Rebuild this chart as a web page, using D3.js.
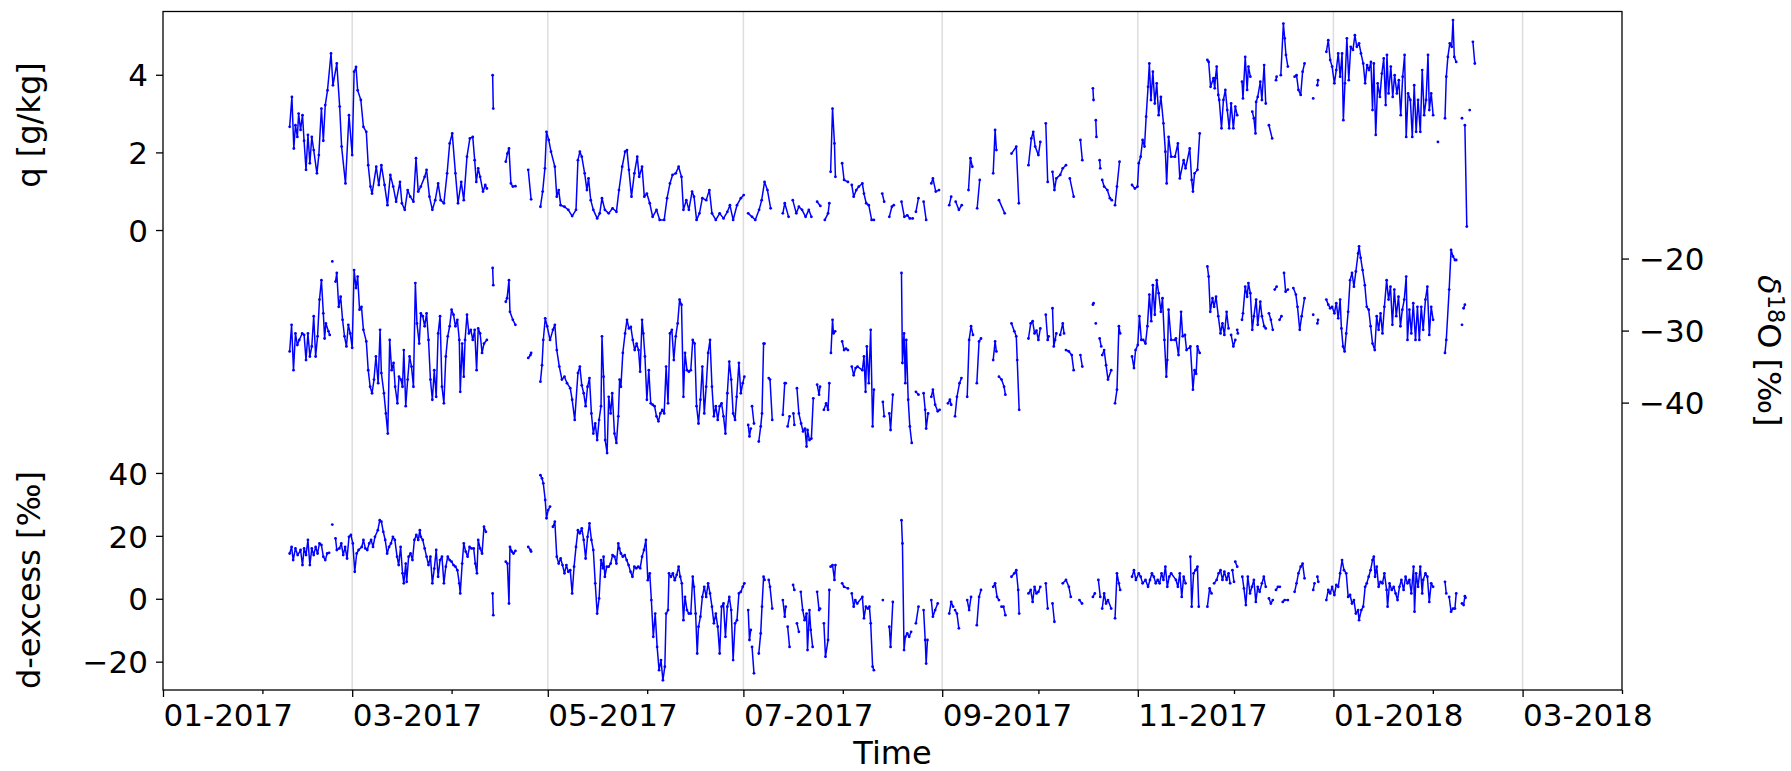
<!DOCTYPE html>
<html lang="en">
<head>
<meta charset="UTF-8">
<title>q, d18O and d-excess time series</title>
<script src="https://d3js.org/d3.v7.min.js"></script>
<style>
  body { margin: 0; background: #fff; }
  svg { display: block; font-family: "DejaVu Sans", sans-serif; }
</style>
</head>
<body>
<div id="chart"></div>
<script>
// each point: [days since 2017-01-01, value]; null marks a gap in the record
const qData = [
  [39.5,2.66],[40.2,3.43],[40.8,2.10],[41.3,2.70],[41.9,2.40],[42.3,3.00],[42.9,2.58],[43.5,2.96],[44.0,2.30],[44.6,1.55],[45.2,2.45],[45.8,1.72],[46.4,2.40],[47.0,2.06],[48.0,1.46],[48.6,1.93],[49.4,3.13],[50.0,2.30],[50.6,3.22],[51.3,3.60],[52.4,4.55],[53.0,3.73],[54.2,4.29],[55.1,3.18],[55.7,2.15],[56.9,1.20],[58.0,2.96],[59.0,1.93],[59.6,4.08],[60.2,4.20],[60.7,3.60],[61.7,3.35],[62.5,2.66],[63.4,2.53],[64.0,1.67],[64.7,1.12],[65.2,0.94],[66.5,1.63],[67.3,1.16],[68.1,1.67],[69.1,1.16],[70.0,0.64],[70.9,1.42],[71.8,1.12],[72.7,0.73],[73.9,1.24],[74.5,0.69],[75.4,0.52],[76.3,1.03],[77.1,0.86],[78.1,0.73],[78.9,1.85],[79.6,0.99],[80.4,1.12],[81.6,1.37],[82.2,1.55],[83.1,0.86],[84.0,0.52],[84.9,0.77],[85.8,1.20],[86.6,0.77],[87.6,0.69],[88.6,1.46],[89.4,2.23],[90.2,2.49],[91.2,1.46],[92.0,0.69],[93.0,1.24],[93.8,0.77],[94.8,1.89],[95.7,2.36],[96.6,2.40],[97.2,1.80],[97.7,1.24],[98.3,1.59],[98.9,1.37],[99.8,0.99],[100.5,1.16],[101.0,1.07], null,
  [102.8,3.99],[103.0,3.13], null,
  [106.9,1.76],[107.4,1.97],[107.9,2.10],[108.5,1.20],[109.1,1.12],[109.9,1.13], null,
  [113.9,1.55],[114.8,0.79], null,
  [117.7,0.60],[118.4,0.99],[119.1,1.59],[119.6,2.53],[120.3,2.32],[121.0,2.02],[122.2,1.63],[122.8,0.86],[123.4,1.03],[124.0,0.64],[125.2,0.60],[126.4,0.52],[127.6,0.36],[128.8,0.52],[129.4,1.80],[130.0,2.02],[130.6,1.89],[131.5,1.46],[132.2,1.03],[132.7,1.33],[133.4,0.77],[134.2,0.52],[135.4,0.30],[136.2,0.43],[136.9,0.82],[137.8,0.52],[139.0,0.43],[140.2,0.56],[141.4,0.47],[142.2,1.03],[143.2,1.63],[144.1,2.02],[144.7,2.06],[145.3,1.55],[146.1,0.86],[147.0,1.46],[147.9,1.89],[148.5,1.37],[149.4,1.63],[150.1,0.86],[150.9,0.94],[151.8,0.69],[152.7,0.34],[153.9,0.52],[154.9,0.26],[156.3,0.26],[157.2,0.82],[158.1,1.20],[158.9,1.42],[159.9,1.46],[160.8,1.63],[161.7,1.37],[162.3,0.52],[163.2,0.77],[164.0,0.52],[165.0,0.99],[165.6,0.86],[166.4,0.26],[167.3,0.43],[168.2,0.82],[169.4,0.77],[170.4,1.03],[171.2,0.43],[172.4,0.26],[173.6,0.43],[174.8,0.30],[176.0,0.47],[176.8,0.64],[177.8,0.26],[179.0,0.64],[180.2,0.82],[181.1,0.90], null,
  [182.5,0.43],[183.7,0.34],[184.7,0.26],[185.9,0.52],[186.7,0.77],[187.6,1.24],[188.5,1.03],[189.5,0.56], null,
  [193.3,0.43],[193.9,0.69],[195.1,0.34], null,
  [196.4,0.77],[197.5,0.43],[198.3,0.60],[199.3,0.52],[200.4,0.34],[201.4,0.52],[202.2,0.34], null,
  [204.0,0.73],[205.0,0.62], null,
  [206.4,0.26],[207.4,0.43],[207.8,0.69], null,
  [208.2,1.50],[208.8,3.13],[209.4,2.23],[209.7,1.37], null,
  [211.8,1.72],[212.4,1.29],[213.6,1.24], null,
  [214.8,1.16],[215.4,0.86],[216.2,1.03],[217.0,1.12],[218.1,1.20],[218.6,0.94],[219.3,0.69],[220.1,0.64],[221.0,0.26],[221.7,0.26], null,
  [224.3,0.94],[224.9,0.73], null,
  [226.5,0.34],[227.3,0.60],[227.9,0.64], null,
  [230.3,0.73],[231.2,0.34],[232.1,0.38],[232.9,0.30],[233.8,0.30], null,
  [234.8,0.47],[235.6,0.82], null,
  [237.2,0.73],[238.0,0.26], null,
  [239.6,1.20],[240.1,1.33],[241.0,0.99],[242.0,1.03], null,
  [245.2,0.64],[245.8,0.86], null,
  [247.2,0.73],[248.2,0.52],[249.1,0.64], null,
  [251.2,1.03],[251.8,1.85],[252.4,1.63], null,
  [253.9,0.56],[254.7,1.29], null,
  [258.9,1.46],[259.5,2.58],[259.9,2.06], null,
  [260.7,0.77],[262.5,0.43], null,
  [264.6,1.97],[266.1,2.15],[266.9,0.69], null,
  [269.9,1.67],[270.8,2.36],[271.4,2.53],[272.0,2.15],[273.0,1.93],[273.6,2.27], null,
  [275.3,2.75],[275.9,1.24], null,
  [277.4,1.50],[278.0,1.03],[278.6,1.33],[279.8,1.42],[280.6,1.59],[281.6,1.67], null,
  [282.8,1.33],[284.0,0.86], null,
  [286.1,2.32],[286.7,1.80], null,
  [290.0,3.65],[290.2,3.35], null,
  [290.9,2.83],[291.1,2.40], null,
  [292.1,1.80],[292.3,1.59], null,
  [292.9,1.29],[293.5,1.12],[294.5,1.03],[295.3,0.82],[295.9,0.77], null,
  [296.9,0.64],[297.5,1.12],[298.3,1.76], null,
  [302.2,1.16],[303.1,1.07],[303.9,1.12],[304.3,1.72],[304.9,1.89],[305.5,2.32],[306.1,2.15],[306.6,2.92],[307.2,3.69],[307.6,4.29],[308.1,3.35],[308.7,4.08],[309.3,3.26],[309.9,3.78],[310.5,2.96],[311.2,3.43],[312.0,2.75],[312.6,2.02],[313.0,1.20],[313.6,2.40],[314.4,1.89],[315.6,1.89],[316.5,2.23],[317.1,1.33],[318.3,1.80],[318.9,1.59],[320.2,2.10],[320.8,1.29],[321.2,0.99],[321.7,1.46],[322.6,1.55],[323.3,2.49], null,
  [325.7,4.38],[326.1,4.33],[326.7,3.69],[327.6,3.91],[328.0,3.65],[328.2,3.91],[328.6,4.21],[329.1,3.48],[329.4,3.35],[330.1,2.62],[330.7,3.35],[331.3,3.61],[331.9,3.09],[332.5,2.62],[333.1,3.26],[333.8,2.62],[334.4,3.18],[335.0,2.96], null,
  [336.5,3.82],[336.8,3.39],[337.5,4.46],[338.1,3.61],[338.5,4.21],[339.1,3.95], null,
  [339.7,3.05],[340.2,2.88],[340.7,2.49],[340.9,3.30],[341.4,3.43],[342.2,3.82],[342.7,3.35],[343.4,4.25],[343.9,3.26], null,
  [344.9,2.70],[345.9,2.36], null,
  [347.1,3.86],[347.3,3.95], null,
  [348.6,3.99],[349.4,5.32],[349.8,4.94],[350.2,4.51],[350.8,4.21], null,
  [352.9,3.95],[353.5,3.99],[354.1,3.61],[354.8,3.48],[355.4,4.08],[356.0,4.29], null,
  [358.7,3.39], null,
  [360.0,3.73],[360.2,3.86], null,
  [362.8,4.59],[363.4,4.89],[364.0,4.38],[364.6,4.21],[365.3,3.78],[365.9,4.12],[366.5,4.55],[367.1,3.95],[367.7,4.55],[368.1,2.83],[368.6,3.78],[369.2,4.94],[369.8,3.86],[370.4,4.72],[371.1,4.64],[371.7,5.02],[372.3,4.72],[373.0,4.81],[373.6,4.55],[374.3,4.29],[374.9,3.78],[375.5,4.25],[376.1,4.12],[376.7,4.33],[377.2,3.09],[377.6,4.29],[378.2,2.45],[378.8,3.78],[379.5,3.43],[380.1,4.03],[380.7,4.42],[381.3,3.22],[381.7,4.51],[382.2,3.52],[382.9,4.21],[383.5,3.43],[384.1,3.99],[384.8,3.52],[385.4,3.86],[386.0,2.96],[386.6,3.95],[387.2,4.51],[387.7,2.40],[388.3,3.52],[389.0,3.35],[389.6,2.40],[390.2,3.73],[390.8,2.53],[391.4,3.35],[392.1,2.53],[392.7,4.12],[393.3,2.96],[393.9,3.35],[394.5,4.51],[394.9,3.09],[395.5,3.52],[396.1,2.96], null,
  [397.6,2.27], null,
  [399.8,2.88],[400.2,3.95],[400.7,4.46],[401.3,4.81],[401.9,4.72],[402.3,5.41],[402.7,4.46],[403.3,4.33], null,
  [405.1,2.88], null,
  [406.0,2.70],[406.6,0.09], null,
  [407.5,3.09], null,
  [408.5,4.85],[409.1,4.29]
];

const d18Data = [
  [39.5,-32.9],[40.1,-29.2],[40.7,-35.5],[41.3,-30.4],[41.9,-32.0],[42.5,-31.3],[43.4,-30.4],[44.0,-30.6],[44.6,-34.1],[45.2,-30.4],[45.8,-33.6],[46.4,-32.2],[47.0,-28.0],[47.6,-33.6],[48.2,-30.8],[48.8,-25.7],[49.4,-23.0],[50.0,-27.6],[50.4,-31.1],[50.8,-29.0],[51.6,-30.1],[52.0,-30.6], null,
  [52.8,-20.4], null,
  [53.8,-23.2],[54.2,-22.0],[54.8,-26.7],[55.4,-25.3],[56.0,-28.5],[56.6,-30.8],[57.2,-32.2],[57.8,-29.2],[58.4,-30.4],[59.0,-32.4],[59.6,-21.6],[60.2,-24.1],[60.7,-22.5],[61.3,-27.1],[61.9,-26.7],[62.5,-29.9],[63.4,-31.5],[64.0,-35.5],[64.6,-37.8],[65.2,-38.7],[65.8,-36.8],[66.4,-33.6],[67.1,-37.3],[67.7,-29.9],[68.1,-35.9],[68.9,-38.7],[69.5,-41.5],[70.1,-44.3],[70.7,-31.3],[71.3,-35.5],[71.9,-34.5],[72.4,-37.8],[73.1,-40.1],[73.6,-36.4],[74.2,-36.8],[74.7,-37.8],[75.1,-32.7],[75.7,-40.5],[76.3,-36.8],[76.9,-33.6],[77.5,-35.0],[78.1,-37.8],[78.7,-23.4],[79.2,-29.0],[79.9,-31.8],[80.4,-27.6],[81.0,-28.0],[81.6,-29.4],[82.2,-27.6],[82.8,-31.3],[83.4,-36.8],[84.0,-39.6],[84.6,-35.5],[85.2,-39.2],[85.8,-30.4],[86.4,-28.0],[87.0,-37.8],[87.6,-40.1],[88.2,-33.6],[88.8,-30.8],[89.4,-29.4],[90.0,-27.1],[90.6,-27.8],[91.2,-29.4],[91.8,-28.5],[92.4,-31.3],[92.7,-38.5],[93.3,-31.8],[93.8,-36.4],[94.2,-31.3],[94.8,-27.8],[95.4,-30.4],[96.0,-29.9],[96.6,-31.3],[97.2,-29.9],[97.8,-35.5],[98.3,-29.7],[98.9,-30.4],[99.5,-33.1],[100.1,-31.8],[101.0,-31.3], null,
  [102.8,-21.3],[103.0,-23.7], null,
  [106.9,-26.0],[107.3,-25.5],[107.9,-23.0],[108.2,-27.4],[109.1,-28.5],[109.9,-29.2], null,
  [113.9,-33.8],[114.6,-33.4],[114.8,-33.1], null,
  [117.7,-37.1],[118.2,-34.8],[118.6,-31.3],[119.2,-28.3],[119.8,-29.4],[120.7,-31.3],[121.6,-29.9],[122.2,-29.2],[122.8,-32.7],[123.6,-35.0],[124.4,-36.8],[125.2,-36.4],[126.0,-37.3],[127.0,-38.0],[127.6,-39.6],[128.4,-42.4],[129.4,-35.9],[130.0,-35.0],[130.6,-37.6],[131.2,-38.7],[131.8,-40.5],[132.4,-37.8],[133.0,-36.6],[133.6,-41.5],[134.2,-44.3],[134.8,-42.9],[135.4,-45.2],[136.0,-42.4],[136.6,-40.5],[136.9,-30.8],[137.4,-36.4],[137.9,-45.2],[138.5,-47.0],[139.0,-39.2],[139.6,-41.5],[140.1,-38.7],[140.8,-44.3],[141.4,-45.6],[142.0,-41.9],[142.4,-36.8],[142.8,-37.8],
  [143.4,-33.1],[144.1,-30.4],[144.7,-28.5],[145.3,-29.7],[145.9,-29.5],[146.5,-31.3],[147.1,-32.7],[147.7,-31.8],[148.3,-32.7],[148.8,-35.7],[149.4,-28.5],[149.8,-30.4],[150.3,-33.6],[150.9,-39.6],[151.5,-35.5],[152.1,-40.1],[152.7,-40.3],[153.3,-40.5],[153.9,-41.9],[154.5,-42.6],[155.1,-41.5],[155.7,-41.0],[156.3,-41.5],[156.9,-35.0],[157.5,-40.1],[158.1,-30.4],[158.7,-29.9],[159.3,-34.1],[159.9,-30.8],[160.5,-29.0],[161.1,-25.7],[161.7,-26.4],[162.3,-39.2],[162.8,-33.1],[163.4,-35.5],[164.0,-35.7],[164.6,-35.5],[165.2,-31.3],[165.8,-31.8],[166.4,-40.5],[167.0,-42.9],[167.6,-39.6],[168.2,-35.0],[168.8,-41.5],[169.4,-37.8],[170.0,-33.1],[170.6,-31.3],[171.2,-37.8],[171.8,-41.9],[172.4,-40.5],[173.0,-42.4],[173.6,-40.5],[174.2,-40.1],[174.8,-41.9],[175.4,-44.3],[176.0,-38.7],[176.6,-34.3],[177.2,-36.8],[177.8,-41.5],[178.4,-42.4],[178.9,-39.2],[179.6,-34.5],[180.2,-38.7],[180.8,-37.3],[181.3,-36.4], null,
  [182.5,-43.1],[182.9,-44.7],[183.3,-43.6], null,
  [183.7,-40.5],[184.3,-42.9], null,
  [185.8,-45.4],[186.4,-43.3],[186.8,-41.5],[187.3,-31.8],[187.6,-31.8], null,
  [188.9,-36.6],[189.3,-36.8],[190.0,-42.4], null,
  [193.3,-41.7],[193.9,-37.3],[194.2,-37.3], null,
  [194.8,-43.3],[195.4,-41.9], null,
  [196.6,-41.5],[196.9,-43.1], null,
  [197.7,-38.0],[198.3,-41.5],[199.0,-42.9],[199.6,-44.0],[200.2,-43.6],[200.7,-46.1],[201.0,-43.8],[201.6,-45.2],[202.2,-45.0],[202.8,-39.4], null,
  [204.0,-37.5],[204.6,-38.9],[204.9,-37.8], null,
  [206.1,-41.0],[206.8,-40.1],[207.4,-41.0],[207.8,-37.3], null,
  [208.3,-33.1],[208.8,-28.5],[209.1,-30.4],[209.6,-30.1], null,
  [211.8,-31.5],[212.4,-32.7],[213.0,-32.5],[213.6,-32.7], null,
  [214.8,-35.0],[215.4,-36.2],[216.0,-35.2],[216.6,-35.0],[218.1,-35.5],[218.6,-33.6],[219.1,-38.5],[219.5,-32.2],[220.1,-37.3],[220.7,-29.9],[221.3,-43.3],[221.7,-38.2], null,
  [224.5,-39.9],[224.9,-41.9], null,
  [226.5,-41.5],[226.9,-43.8],[227.6,-38.9], null,
  [230.3,-22.0],[230.6,-34.5],[231.1,-30.4],[231.5,-37.3],[231.8,-31.3],[232.4,-39.6],[232.9,-43.3],[233.5,-45.6], null,
  [234.8,-38.5],[235.6,-38.9], null,
  [237.2,-38.7],[237.7,-41.0],[238.0,-43.6],[238.6,-41.5], null,
  [239.6,-39.2],[240.1,-38.2],[240.8,-40.3],[241.6,-41.2],[242.2,-41.0], null,
  [244.8,-40.1],[245.4,-39.6],[245.8,-40.3], null,
  [247.0,-41.9],[247.6,-39.2],[248.4,-37.3],[249.0,-36.6], null,
  [250.8,-39.2],[251.4,-31.3],[252.0,-29.4],[252.6,-30.6], null,
  [253.8,-37.3],[254.5,-31.5],[255.1,-31.1], null,
  [258.9,-34.1],[259.5,-31.5],[259.9,-32.9], null,
  [260.7,-36.4],[261.5,-36.8],[262.3,-37.8],[262.7,-38.9], null,
  [264.6,-29.0],[265.5,-30.1],[266.1,-30.8],[266.4,-34.1],[267.0,-41.0], null,
  [269.9,-31.1],[270.6,-29.0],[271.2,-28.7],[271.8,-30.4],[272.4,-30.0],[273.0,-31.3],[273.6,-29.7], null,
  [275.3,-27.8],[275.9,-31.3],[276.2,-30.8], null,
  [277.4,-26.9],[277.8,-32.2],[278.2,-31.3],[278.6,-30.4], null,
  [279.8,-30.6],[280.6,-29.0],[281.0,-30.4], null,
  [281.6,-32.7],[282.5,-32.9],[283.4,-33.4],[284.0,-35.5], null,
  [286.1,-33.4],[286.7,-35.0], null,
  [290.0,-26.4],[290.2,-26.2], null,
  [290.9,-29.0], null,
  [292.1,-31.1],[292.6,-32.2], null,
  [292.9,-33.4],[293.5,-32.7],[294.1,-34.8],[294.7,-36.8],[295.7,-35.5], null,
  [296.9,-40.1],[297.5,-38.2],[298.1,-29.4],[298.5,-30.4], null,
  [302.2,-33.6],[302.8,-35.2],[303.3,-32.7],[304.0,-32.0],[304.5,-28.0],[305.1,-31.3],[305.7,-31.3],[306.4,-31.8],[307.0,-29.4],[307.6,-25.0],[308.2,-28.7],[308.7,-23.7],[309.3,-27.8],[309.9,-23.0],[310.5,-24.8],[311.2,-27.4],[311.7,-25.5],[312.3,-31.3],[312.9,-36.4],[313.2,-34.1],[313.6,-27.1],[314.4,-31.3],[315.6,-31.3],[315.9,-31.1],[316.7,-33.4],[317.5,-27.4],[318.0,-30.8],[318.7,-30.6],[319.2,-32.7],[320.4,-32.2],[321.2,-38.2],[321.7,-35.5],[322.2,-36.0],[322.6,-32.2],[323.3,-33.1], null,
  [325.7,-21.1],[326.1,-22.5],[326.6,-27.4],[327.3,-25.5],[327.8,-26.7],[328.4,-25.3],[329.1,-28.0],[329.8,-30.4],[330.4,-29.0],[331.0,-30.6],[331.7,-27.4],[332.3,-29.7], null,
  [333.1,-30.6],[333.8,-32.2],[334.4,-31.3], null,
  [335.0,-29.9],[335.2,-30.4], null,
  [336.5,-28.5],[336.8,-27.6],[337.5,-23.9],[338.1,-25.3],[338.5,-23.4],[339.1,-24.8],[339.7,-29.9],[340.2,-28.0],[340.9,-25.7],[341.4,-29.2],[342.2,-26.0],[342.7,-28.0],[343.4,-29.4],[343.9,-29.7], null,
  [344.9,-27.6],[345.5,-28.5],[346.1,-29.9], null,
  [346.7,-24.3],[347.3,-23.9], null,
  [348.2,-28.5],[348.8,-28.0], null,
  [349.6,-22.0],[350.1,-24.6],[350.8,-24.3], null,
  [352.5,-24.1],[353.3,-25.0],[353.8,-26.7],[354.5,-29.9],[355.1,-28.0],[356.0,-25.5], null,
  [358.7,-27.8], null,
  [360.0,-29.0],[360.2,-28.5], null,
  [362.8,-25.7],[363.4,-26.4],[364.0,-26.9],[364.6,-26.7],[365.3,-27.6],[365.9,-26.2],[366.5,-28.3],[367.1,-25.7],[367.5,-29.7],[368.0,-32.2],[368.5,-32.9],[369.0,-30.4],[369.6,-27.4],[370.2,-23.0],[370.8,-22.0],[371.4,-23.9],[372.0,-21.8],[372.7,-19.3],[373.0,-18.3],[373.5,-19.9],[374.1,-21.6],[374.8,-23.7],[375.4,-26.7],[376.0,-27.1],[376.6,-29.4],[377.2,-31.8],[377.9,-32.7],[378.5,-28.0],[379.1,-29.9],[379.7,-27.6],[380.3,-30.4],[380.9,-26.7],[381.6,-23.0],[382.2,-25.7],[382.8,-23.9],[383.4,-29.2],[384.0,-24.3],[384.6,-28.0],[385.3,-25.3],[385.9,-29.4],[386.5,-27.1],[387.1,-25.7],[387.7,-22.5],[388.1,-31.3],[388.7,-27.1],[389.3,-30.4],[389.9,-26.2],[390.6,-31.3],[391.2,-26.7],[391.8,-31.3],[392.4,-26.7],[393.0,-29.9],[393.7,-25.7],[394.3,-23.9],[394.9,-30.6],[395.5,-26.7],[396.1,-28.5], null,
  [399.8,-33.1],[400.2,-31.3],[401.1,-24.3],[401.7,-18.8],[402.3,-19.7],[402.9,-20.2],[403.3,-20.2], null,
  [405.1,-29.2], null,
  [405.6,-26.9],[406.0,-26.4]
];

const dxsData = [
  [39.5,14.4],[40.1,16.5],[40.6,12.3],[41.3,16.0],[42.0,13.9],[42.9,15.5],[43.5,10.7],[44.0,16.0],[44.6,13.9],[45.2,18.7],[45.8,10.7],[46.4,16.0],[47.0,13.9],[47.6,16.5],[48.2,14.4],[48.8,17.6],[49.4,17.1],[50.0,13.4],[50.6,12.3],[51.2,14.4],[51.8,14.6], null,
  [52.8,23.6], null,
  [53.8,19.2],[54.2,15.5],[55.0,16.0],[55.6,17.6],[56.2,13.9],[56.8,16.5],[57.4,12.8],[58.0,19.7],[58.6,20.3],[59.2,17.6],[59.8,8.6],[60.4,14.4],[61.0,15.5],[62.0,16.5],[62.5,18.7],[63.1,16.0],[63.7,15.5],[64.3,17.6],[64.9,18.7],[65.5,16.5],[66.1,19.7],[67.0,21.8],[67.6,25.0],[68.1,24.5],[68.7,21.3],[69.3,18.7],[69.9,14.4],[70.5,16.5],[71.1,17.6],[71.7,19.7],[72.3,18.7],[73.0,13.4],[73.5,10.7],[74.1,16.5],[74.7,8.1],[75.1,4.9],[75.7,11.2],[76.0,5.4],[76.6,13.4],[77.2,14.4],[77.8,12.3],[78.4,18.7],[79.0,20.3],[79.6,18.7],[80.1,21.8],[80.4,19.7],[81.0,18.7],[81.6,16.0],[82.2,13.4],[82.8,10.7],[83.4,13.4],[84.0,4.9],[84.6,9.6],[85.2,15.5],[85.8,7.0],[86.4,12.3],[87.0,13.4],[87.6,4.9],[88.2,10.2],[88.8,13.4],[89.4,12.3],[90.0,11.8],[90.6,10.7],[91.2,10.2],[91.8,9.1],[92.4,4.9],[92.7,1.7],[93.3,11.2],[93.8,17.6],[94.4,15.0],[95.0,13.4],[95.6,16.5],[96.2,16.0],[96.9,16.0],[97.4,11.2],[97.9,8.1],[98.3,18.7],[98.9,16.0],[99.5,14.4],[100.1,22.9],[100.7,21.3], null,
  [102.8,1.7],[103.0,-5.2], null,
  [106.9,11.8],[107.4,11.2],[107.9,-1.5],[108.2,16.5],[108.8,15.0],[109.3,14.4],[109.9,15.2], null,
  [113.9,16.5],[114.6,15.5],[114.8,15.0], null,
  [117.7,39.3],[118.2,38.3],[118.6,36.7],[119.2,31.4],[119.6,25.6],[120.1,28.2],[120.7,29.3], null,
  [121.6,22.9],[122.2,24.5],[122.8,13.4],[123.4,11.2],[124.0,12.8],[124.6,10.7],[125.2,8.1],[125.8,10.7],[126.4,8.6],[127.0,9.1],[127.6,1.7],[128.2,10.2],[128.8,16.5],[129.4,21.8],[130.0,20.8],[130.6,22.4],[131.2,18.7],[131.8,12.8],[132.4,19.7],[133.0,24.0],[133.6,18.7],[134.2,15.5],[134.8,4.9],[135.4,-4.7],[136.0,0.1],[136.6,12.3],[137.2,9.7],[137.4,13.4],[137.8,7.0],[138.4,10.2],[139.0,10.2],[139.6,11.2],[140.2,13.9],[140.8,13.4],[141.4,11.2],[142.0,17.6],[142.3,16.0],[142.8,14.4],[143.4,13.4],[144.0,13.9],[144.6,12.3],[145.2,10.7],[145.8,8.6],[146.4,7.0],[147.0,10.2],[147.6,9.7],[148.2,10.2],[148.8,9.7],[149.4,13.4],[150.0,15.5],[150.6,18.7],[151.2,5.9],[151.8,8.1],[152.3,-0.4],[152.9,-12.1],[153.5,-4.7],[154.1,-15.3],[154.7,-22.7],[155.3,-19.5],[155.9,-25.9],[156.5,-21.6],[156.9,-4.7],[157.5,-3.6],[157.8,8.1],[158.4,7.0],[159.0,8.1],[159.6,5.9],[160.2,7.6],[160.8,10.2],[161.3,7.0],[161.8,4.9],[162.3,-6.8],[162.8,0.6],[163.4,-3.6],[164.0,-4.7],[164.6,-4.7],[165.2,7.0],[165.6,3.8],[166.1,-4.7],[166.6,-17.4],[167.0,-8.9],[167.6,-5.7],[168.2,0.6],[168.8,3.8],[169.4,0.6],[170.0,4.9],[170.6,1.7],[171.2,-2.5],[171.8,-7.8],[172.4,-4.7],[173.0,-8.9],[173.6,-17.4],[174.2,-2.5],[174.8,-1.5],[175.4,-12.1],[176.0,-2.5],[176.6,0.6],[177.2,-3.6],[177.8,-19.5],[178.4,-7.8],[179.0,-6.8],[179.6,1.7],[180.2,2.2],[180.8,3.8],[181.3,4.9], null,
  [182.5,-3.6],[182.9,-13.1],[183.3,-9.9], null,
  [183.7,-15.3],[184.3,-23.7], null,
  [185.8,-17.4],[186.4,-11.0],[186.8,-2.5],[187.3,7.0],[187.6,6.0], null,
  [188.9,6.0],[189.3,3.8],[190.0,-3.1], null,
  [193.3,-0.4],[193.9,-5.7],[194.2,-2.5], null,
  [194.8,-8.9],[195.4,-15.3], null,
  [196.5,4.4],[196.9,2.8], null,
  [197.7,-7.8],[198.3,-10.5], null,
  [198.9,2.2],[199.5,-3.6],[200.1,-6.8],[200.7,-4.7],[201.0,-16.3],[201.6,-3.6],[202.0,-9.9],[202.6,-15.3], null,
  [204.0,2.2],[204.6,-3.6],[204.9,-3.1], null,
  [206.1,-7.8],[206.6,-18.4],[207.4,-13.1],[207.8,2.8], null,
  [208.2,10.2],[208.8,10.7],[209.4,6.0],[209.7,10.7], null,
  [211.8,4.9],[212.4,3.8],[213.6,3.3], null,
  [214.8,1.7],[215.4,-2.5],[215.9,-0.4],[216.5,-1.5],[218.1,0.6],[218.6,-6.2],[219.2,-2.5],[219.8,-3.1],[220.3,-2.5],[220.7,-7.8],[221.3,-21.6],[221.7,-22.7], null,
  [224.5,-0.4], null,
  [226.5,-8.9],[226.9,-15.3],[227.6,-1.0], null,
  [230.3,25.0],[230.6,17.6],[231.1,-16.3],[231.5,-12.1],[232.1,-11.0],[232.7,-12.1],[233.3,-10.5], null,
  [234.8,-7.8],[235.6,-2.5], null,
  [237.2,-3.6],[237.7,-13.1],[238.0,-20.6],[238.4,-13.1], null,
  [239.6,-0.4],[240.1,-5.7],[240.8,-3.6],[241.6,-1.5], null,
  [245.2,-4.7],[245.8,-1.0],[246.4,-2.5], null,
  [247.0,-3.6],[247.6,-4.7],[248.2,-9.4], null,
  [250.8,-0.4],[251.4,-3.6],[252.0,0.6], null,
  [253.8,-8.4],[254.5,0.6],[255.1,2.8], null,
  [258.9,3.8],[259.5,4.9],[260.1,0.6],[260.7,-0.4], null,
  [261.5,-2.5],[262.1,-2.5],[262.7,-5.2], null,
  [264.6,7.0],[265.5,8.1],[266.1,9.1],[266.7,2.8],[267.0,-4.7], null,
  [269.9,1.7],[270.6,2.8],[271.2,-1.0],[271.8,3.8],[272.4,1.7],[273.0,2.2],[273.6,3.8], null,
  [275.3,4.9],[275.9,-3.1], null,
  [277.4,-1.5],[278.0,-7.3], null,
  [280.6,4.9],[281.6,6.0],[282.5,3.8],[283.1,0.6], null,
  [285.8,-0.4],[286.6,-1.5], null,
  [290.0,0.6],[290.6,1.7], null,
  [291.7,6.0],[292.3,0.6], null,
  [292.9,-3.1],[293.5,1.7],[294.1,-1.5],[294.7,-0.4],[295.7,-3.1], null,
  [296.9,-6.2],[297.5,8.1],[298.1,4.9],[298.5,2.8], null,
  [302.2,7.0],[302.8,9.1],[303.4,6.0],[304.3,8.1],[304.9,7.0],[305.5,4.9],[306.4,6.0],[307.2,3.8],[307.8,6.0],[308.4,8.1],[309.0,7.0],[309.6,4.9],[310.2,6.0],[310.8,4.9],[311.4,8.1],[312.0,6.0],[312.6,10.2],[313.2,3.8],[313.8,7.0],[314.4,8.1],[315.9,6.0],[316.5,3.8],[317.1,8.1],[317.7,0.6],[318.3,7.0],[318.9,4.9], null,
  [320.4,13.4],[320.8,-2.5],[321.4,8.1],[322.0,9.1],[322.6,10.2],[323.0,-2.5], null,
  [325.7,-2.5],[326.4,3.3],[327.0,1.7], null,
  [327.8,4.9],[328.6,6.0],[329.2,8.1],[329.8,9.1],[330.4,6.0],[331.0,8.6],[331.7,6.0],[332.3,8.1],[332.8,4.9], null,
  [333.5,9.1],[334.0,5.4], null,
  [334.4,11.8],[335.0,10.2], null,
  [336.6,7.0],[337.1,3.3],[337.7,-2.0],[338.3,7.0],[339.0,1.7],[339.6,3.8],[340.2,6.0],[340.8,-1.0],[341.4,3.8],[342.0,2.2],[342.7,4.9],[343.3,7.0],[343.9,3.8], null,
  [344.9,0.1],[345.5,-1.5],[346.1,-0.4], null,
  [347.1,2.8],[347.7,3.8],[348.3,3.8], null,
  [349.2,-1.0],[349.8,-0.4],[350.8,-0.4], null,
  [352.9,2.2],[353.5,4.9],[354.1,8.1],[354.8,10.2],[355.4,11.2],[356.0,6.5], null,
  [358.7,2.8],[359.1,4.9], null,
  [360.0,7.0],[360.3,5.4], null,
  [362.8,-0.4],[363.4,2.8],[364.0,1.7],[364.6,3.8],[365.3,1.2],[365.9,4.4],[366.5,3.8],[367.1,8.1],[367.7,12.3],[368.3,9.1],[369.0,8.1],[369.6,0.6],[370.2,1.2],[370.8,-1.5],[371.4,-0.4],[372.0,-4.7],[372.7,-3.6],[373.0,-6.8],[373.7,-3.6],[374.3,-2.5],[374.9,3.8],[375.4,4.9],[376.0,7.0],[376.6,9.1],[377.2,12.3],[377.6,13.4],[378.0,7.0],[378.5,10.2],[379.1,3.8],[379.7,5.4],[380.3,4.9],[380.9,8.1],[381.6,2.8],[381.9,-2.5],[382.5,4.9],[383.2,2.8],[383.8,3.8],[384.4,1.7],[385.0,-0.4],[385.6,3.8],[386.2,6.0],[386.9,2.8],[387.5,7.0],[388.1,4.9],[388.7,6.0],[389.3,1.7],[390.0,10.2],[390.3,-4.1],[390.8,8.1],[391.4,3.8],[392.1,10.2],[392.7,1.7],[393.0,6.0],[393.7,8.1],[394.3,7.0],[394.9,-1.0],[395.5,4.9],[396.1,3.8], null,
  [399.8,5.4],[400.2,1.7], null,
  [401.1,0.6],[401.7,-4.1],[402.3,-3.1],[402.9,-3.1],[403.3,1.7], null,
  [405.1,-1.5], null,
  [405.6,-2.0],[406.0,0.8],[406.2,0.3]
];

const qTicks = [0, 2, 4];
const d18Ticks = [-20, -30, -40];
const dxsTicks = [-20, 0, 20, 40];
const majorMonths = ["2017-01", "2017-03", "2017-05", "2017-07", "2017-09", "2017-11", "2018-01", "2018-03"];
const minorMonths = ["2017-02", "2017-04", "2017-06", "2017-08", "2017-10", "2017-12", "2018-02", "2018-04"];

const W = 1791, H = 771;
const plotLeft = 163, plotRight = 1622, plotTop = 11.5, plotBottom = 690;
const blue = "#0000ff";
const fontTick = 31, fontLabel = 32;

const base = Date.UTC(2017, 0, 1);
const toDate = d => new Date(base + d * 864e5);
const parseMonth = d3.utcParse("%Y-%m");

const x = d3.scaleUtc()
  .domain([parseMonth("2017-01"), parseMonth("2018-04")])
  .range([plotLeft, plotRight]);

// three stacked panels share one frame, each with its own y scale
const yQ = d3.scaleLinear().domain([-11.85, 5.63]).range([plotBottom, plotTop]);
const yD18 = d3.scaleLinear().domain([-79.9, 14.3]).range([plotBottom, plotTop]);
const yDxs = d3.scaleLinear().domain([-29.0, 186.7]).range([plotBottom, plotTop]);

const svg = d3.select("#chart").append("svg")
  .attr("width", W)
  .attr("height", H);

// vertical grid at labelled months
svg.append("g")
  .selectAll("line")
  .data(majorMonths.slice(1).map(parseMonth))
  .join("line")
  .attr("x1", d => x(d)).attr("x2", d => x(d))
  .attr("y1", plotTop).attr("y2", plotBottom)
  .attr("stroke", "#dddddd")
  .attr("stroke-width", 1.5);

function drawSeries(data, y) {
  const line = d3.line()
    .defined(d => d !== null)
    .x(d => x(toDate(d[0])))
    .y(d => y(d[1]));

  svg.append("path")
    .datum(data)
    .attr("fill", "none")
    .attr("stroke", blue)
    .attr("stroke-width", 1.5)
    .attr("stroke-linejoin", "round")
    .attr("d", line);

  svg.append("g")
    .selectAll("circle")
    .data(data.filter(d => d !== null))
    .join("circle")
    .attr("cx", d => x(toDate(d[0])))
    .attr("cy", d => y(d[1]))
    .attr("r", 1.4)
    .attr("fill", blue);
}

drawSeries(qData, yQ);
drawSeries(d18Data, yD18);
drawSeries(dxsData, yDxs);

function styleAxis(g) {
  g.select(".domain").remove();
  g.attr("font-family", "DejaVu Sans, sans-serif").attr("font-size", fontTick);
  g.selectAll(".tick line").attr("stroke", "#000").attr("stroke-width", 1.3);
  g.selectAll(".tick text").attr("fill", "#000");
}

svg.append("g")
  .attr("transform", `translate(${plotLeft},0)`)
  .call(d3.axisLeft(yQ).tickValues(qTicks).tickSize(7).tickPadding(8).tickFormat(d3.format("d")))
  .call(styleAxis)
  .call(g => g.selectAll(".tick text").attr("dy", "0.36em"));

svg.append("g")
  .attr("transform", `translate(${plotLeft},0)`)
  .call(d3.axisLeft(yDxs).tickValues(dxsTicks).tickSize(7).tickPadding(8).tickFormat(d3.format("d")))
  .call(styleAxis)
  .call(g => g.selectAll(".tick text").attr("dy", "0.36em"));

svg.append("g")
  .attr("transform", `translate(${plotRight},0)`)
  .call(d3.axisRight(yD18).tickValues(d18Ticks).tickSize(7).tickPadding(10).tickFormat(d3.format("d")))
  .call(styleAxis)
  .call(g => g.selectAll(".tick text").attr("dy", "0.36em"));

svg.append("g")
  .attr("transform", `translate(0,${plotBottom})`)
  .call(d3.axisBottom(x).tickValues(minorMonths.map(parseMonth)).tickSize(4).tickFormat(""))
  .call(styleAxis);

svg.append("g")
  .attr("transform", `translate(0,${plotBottom})`)
  .call(d3.axisBottom(x).tickValues(majorMonths.map(parseMonth)).tickSize(7).tickPadding(7).tickFormat(d3.utcFormat("%m-%Y")))
  .call(styleAxis)
  .call(g => g.selectAll(".tick text").attr("text-anchor", "start").attr("x", 0));

// frame
svg.append("rect")
  .attr("x", plotLeft).attr("y", plotTop)
  .attr("width", plotRight - plotLeft).attr("height", plotBottom - plotTop)
  .attr("fill", "none")
  .attr("stroke", "#000")
  .attr("stroke-width", 1.3);

// axis titles
svg.append("text")
  .attr("x", (plotLeft + plotRight) / 2).attr("y", 764)
  .attr("text-anchor", "middle")
  .attr("font-size", fontLabel)
  .text("Time");

svg.append("text")
  .attr("transform", "translate(40,125) rotate(-90)")
  .attr("text-anchor", "middle")
  .attr("font-size", fontLabel)
  .text("q [g/kg]");

svg.append("text")
  .attr("transform", "translate(40,580) rotate(-90)")
  .attr("text-anchor", "middle")
  .attr("font-size", fontLabel)
  .text("d-excess [‰]");

const d18Label = svg.append("text")
  .attr("transform", `translate(1758,${(plotTop + plotBottom) / 2}) rotate(90)`)
  .attr("text-anchor", "middle")
  .attr("font-size", fontLabel);
d18Label.append("tspan").attr("font-style", "italic").text("δ");
d18Label.append("tspan").attr("font-size", fontLabel * 0.7).attr("dy", -10).text("18");
d18Label.append("tspan").attr("dy", 10).text("O [‰]");
</script>
</body>
</html>
